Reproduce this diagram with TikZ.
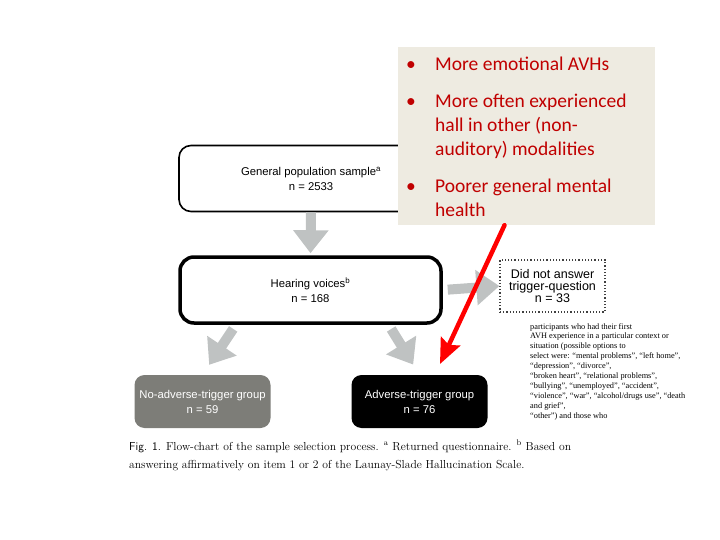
\documentclass[tikz,border=0pt]{standalone}
\usepackage{fontspec}
\newfontfamily\arialfont{Liberation Sans}
\newfontfamily\calibrifont{Carlito}
\newfontfamily\timesfont{Liberation Serif}
\usetikzlibrary{arrows.meta,calc}
\definecolor{beige}{HTML}{EEEBE1}
\definecolor{arrowgray}{HTML}{BFC2C2}
\definecolor{boxgray}{HTML}{7D7D78}
\definecolor{notered}{HTML}{C00000}
\definecolor{dotgray}{HTML}{404040}
\tikzset{
  flowbox/.style={align=center,inner sep=2pt,font=\arialfont\fontsize{11.3}{15}\selectfont},
  groupbox/.style={flowbox,rounded corners=10pt,minimum width=136pt,minimum height=53pt,text=white},
  grayarrow/.style={arrowgray,line width=10pt,-{Triangle[width=34pt,length=23pt]}},
  redarrow/.style={red,line width=4.5pt,line cap=round,-{Stealth[length=25pt,width=21pt,inset=4pt]}},
}
\begin{document}
\begin{tikzpicture}[x=1pt,y=-1pt]
\useasboundingbox (0,0) rectangle (720,540);
% flow chart
\node[flowbox,draw,line width=1.6pt,rounded corners=12pt,minimum width=264pt,minimum height=66pt] (gen) at (311,178.5)
  {General population sample\textsuperscript{a}\\n = 2533};
\node[flowbox,draw,line width=3.5pt,rounded corners=14pt,minimum width=261pt,minimum height=66pt] (hv) at (310.5,290)
  {Hearing voices\textsuperscript{b}\\n = 168};
\node[flowbox,draw=dotgray,dotted,line width=1.2pt,minimum width=105pt,minimum height=52pt,
  font=\arialfont\fontsize{12.5}{11.7}\selectfont] (dna) at (552.5,286)
  {Did not answer\\trigger-question\\n = 33};
\node[groupbox,fill=boxgray] (nog) at (202.5,401.5) {No-adverse-trigger group\\n = 59};
\node[groupbox,fill=black] (adv) at (419.5,401.5) {Adverse-trigger group\\n = 76};
\draw[grayarrow,shorten >=2pt] (gen.south) -- (hv.north);
\draw[grayarrow,shorten <=5pt] (hv.east) -- (dna.west);
\draw[grayarrow,shorten <=5pt,shorten >=12pt] (hv.205) -- (nog.north);
\draw[grayarrow,shorten <=5pt,shorten >=12pt] (hv.-24) -- (adv.north);
% beige overlay with the bullets
\node[fill=beige,minimum width=257pt,minimum height=178pt] (notes) at (526.5,136) {};
\node[anchor=north west,inner sep=0pt,text=notered,font=\calibrifont\fontsize{19.5}{24}\selectfont] (bullets) at (406,54)
  {\begin{tabular}{@{}p{29pt}@{}l@{}}
   \textbullet & More emotional AVHs\\[13pt]
   \textbullet & More often experienced\\
   & hall in other (non-\\
   & auditory) modalities\\[13pt]
   \textbullet & Poorer general mental\\
   & health
   \end{tabular}};
\coordinate (redtip) at (440,364);
\draw[redarrow] ($(notes.south)+(-22,0)$) -- (redtip);
% small print
\node[anchor=north west,inner sep=0pt,align=left,font=\timesfont\fontsize{8.3}{9.9}\selectfont] (smallprint) at (530,323)
  {participants who had their first\\
   AVH experience in a particular context or\\
   situation (possible options to\\
   select were: “mental problems”, “left home”,\\
   “depression”, “divorce”,\\
   “broken heart”, “relational problems”,\\
   “bullying”, “unemployed”, “accident”,\\
   “violence”, “war”, “alcohol/drugs use”, “death\\
   and grief”,\\
   “other”) and those who};
% caption
\node[anchor=north west,inner sep=0pt,align=left,font=\fontsize{11.6}{18.5}\selectfont] (caption) at (129,440)
  {\textsf{Fig. 1.} Flow-chart of the sample selection process. \textsuperscript{a} Returned questionnaire. \textsuperscript{b} Based on\\
   answering affirmatively on item 1 or 2 of the Launay-Slade Hallucination Scale.};
\end{tikzpicture}
\end{document}
